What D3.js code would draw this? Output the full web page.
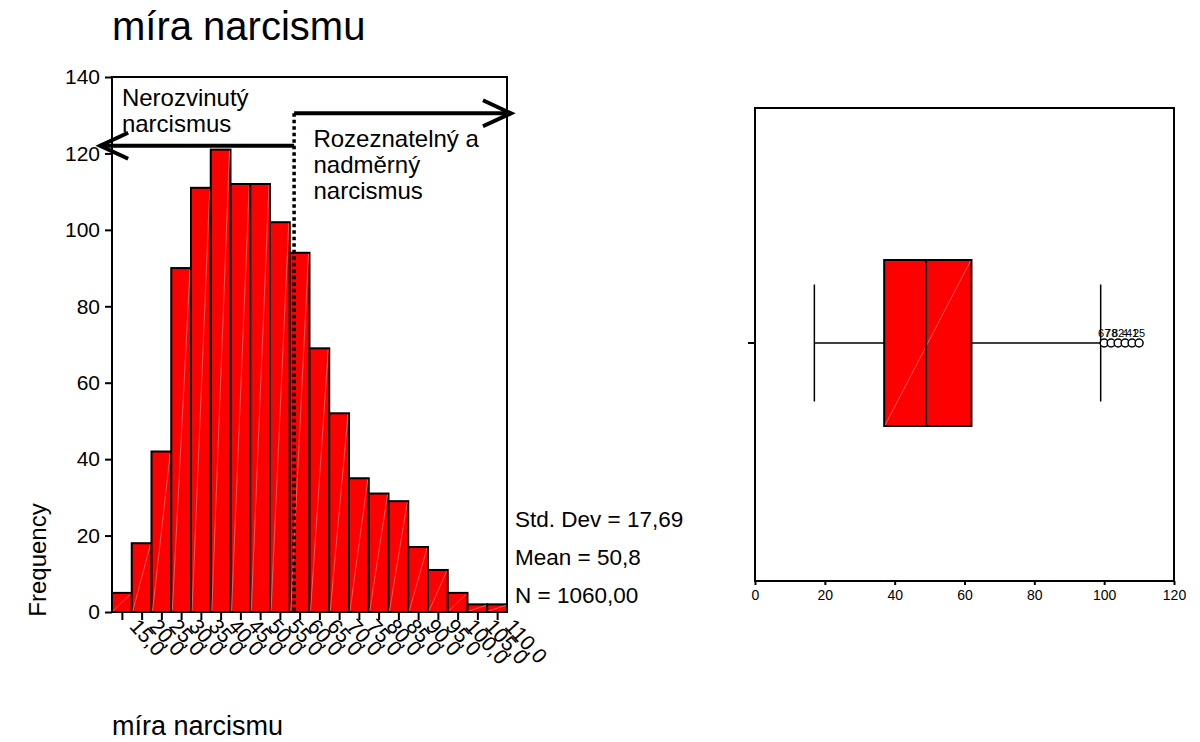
<!DOCTYPE html>
<html><head><meta charset="utf-8">
<script src="https://cdn.jsdelivr.net/npm/d3@7/dist/d3.min.js"></script>
<style>
body{margin:0;background:#fff;}
text{font-family:"Liberation Sans",Arial,sans-serif;fill:#000;}
</style></head>
<body><svg id="c" width="1200" height="742"></svg>
<script>
// ---- data ----
const binCenters = [15,20,25,30,35,40,45,50,55,60,65,70,75,80,85,90,95,100,105,110];
const counts     = [5,18,42,90,111,121,112,112,102,94,69,52,35,31,29,17,11,5,2,2];
const yTicks     = [0,20,40,60,80,100,120,140];
const statLines  = ["Std. Dev = 17,69","Mean = 50,8","N = 1060,00"];
const cutoff     = 58.6;
const leftLabel  = ["Nerozvinutý","narcismus"];
const rightLabel = ["Rozeznatelný a","nadměrný","narcismus"];
// boxplot: [lower whisker, Q1, median, Q3, upper whisker]
const boxValues  = [17,37,49,62,99];
const outliers   = [100,102,104,106,108,110];
const outlierLabels = ["67","78","82","4","41","25"];
const boxTicks   = [0,20,40,60,80,100,120];

const svg = d3.select("#c");
const font = "Liberation Sans, Arial, sans-serif";

// titles
svg.append("text").attr("x",112).attr("y",40).attr("font-size",40).text("míra narcismu");
svg.append("text").attr("x",112).attr("y",735).attr("font-size",27).text("míra narcismu");

// ---- histogram ----
const x = d3.scaleLinear().domain([12.5,112.5]).range([112,507]);
const y = d3.scaleLinear().domain([0,140]).range([612,77]);
const g = svg.append("g");

const bars = g.selectAll("g.bar").data(binCenters).join("g");
bars.append("rect")
  .attr("x",d=>x(d-2.5)).attr("width",d=>x(d+2.5)-x(d-2.5))
  .attr("y",(d,i)=>y(counts[i])).attr("height",(d,i)=>y(0)-y(counts[i]))
  .attr("fill","#ff0000").attr("stroke","#000").attr("stroke-width",2);
bars.append("line")
  .attr("x1",d=>x(d-2.5)+1).attr("y1",y(0)-1)
  .attr("x2",d=>x(d+2.5)-1).attr("y2",(d,i)=>y(counts[i])+1)
  .attr("stroke","#ff7070").attr("stroke-width",0.8);

// frame
g.append("rect").attr("x",x(12.5)).attr("y",y(140)).attr("width",x(112.5)-x(12.5)).attr("height",y(0)-y(140))
  .attr("fill","none").attr("stroke","#000").attr("stroke-width",2);

const ya = g.append("g").attr("transform",`translate(${x(12.5)},0)`)
  .call(d3.axisLeft(y).tickValues(yTicks).tickSize(7).tickPadding(5));
ya.select(".domain").remove();
ya.selectAll("line").attr("stroke-width",2);
ya.selectAll("text").attr("font-size",21).attr("font-family",font);

const xa = g.append("g").attr("transform",`translate(0,${y(0)})`)
  .call(d3.axisBottom(x).tickValues(binCenters).tickSize(8).tickFormat(d=>d.toFixed(1).replace(".",",")));
xa.select(".domain").remove();
xa.selectAll("line").attr("stroke-width",2);
xa.selectAll("text").attr("font-size",21).attr("font-family",font)
  .attr("text-anchor","start").attr("dy",0).attr("y",0)
  .attr("transform","translate(6,15) rotate(48)");

// cutoff dotted line
g.append("line").attr("x1",x(cutoff)).attr("x2",x(cutoff)).attr("y1",y(130.5)).attr("y2",y(0))
  .attr("stroke","#000").attr("stroke-width",3.5).attr("stroke-dasharray","3.5,3");

// arrows
function arrow(x1,x2,yv,dir){
  const yy=y(yv), xt=x(x2);
  g.append("line").attr("x1",x(x1)).attr("x2",xt).attr("y1",yy).attr("y2",yy)
    .attr("stroke","#000").attr("stroke-width",4);
  g.append("path").attr("d",`M${xt-dir*28},${yy-13}L${xt},${yy}L${xt-dir*28},${yy+13}`)
    .attr("fill","none").attr("stroke","#000").attr("stroke-width",4).attr("stroke-linejoin","miter");
}
arrow(cutoff,113.5,130.5,1);
arrow(cutoff,9.5,122,-1);

leftLabel.forEach((t,i)=>g.append("text").attr("x",x(15)).attr("y",y(132.5-i*6.9)).attr("font-size",24).text(t));
rightLabel.forEach((t,i)=>g.append("text").attr("x",x(63.5)).attr("y",y(121.8-i*6.9)).attr("font-size",24).text(t));

statLines.forEach((t,i)=>g.append("text").attr("x",515).attr("y",527+i*38).attr("font-size",22.5).text(t));

svg.append("text").attr("transform","translate(46,560) rotate(-90)").attr("text-anchor","middle")
  .attr("font-size",24).text("Frequency");

// ---- boxplot ----
const bx = d3.scaleLinear().domain([0,120]).range([755,1174]);
const cy = 343, bh = 83, ch = 58.5;
const b = svg.append("g");
b.append("rect").attr("x",bx(0)).attr("y",108).attr("width",bx(120)-bx(0)).attr("height",581-108)
  .attr("fill","none").attr("stroke","#000").attr("stroke-width",2);
const ba = b.append("g").attr("transform","translate(0,581)")
  .call(d3.axisBottom(bx).tickValues(boxTicks).tickSize(4).tickPadding(5));
ba.select(".domain").remove();
ba.selectAll("line").attr("stroke-width",2);
ba.selectAll("text").attr("font-size",14).attr("font-family",font);
b.append("line").attr("x1",bx(0)-7).attr("x2",bx(0)).attr("y1",cy).attr("y2",cy).attr("stroke","#000").attr("stroke-width",2);

const [wl,q1,md,q3,wh] = boxValues;
b.append("line").attr("x1",bx(wl)).attr("x2",bx(q1)).attr("y1",cy).attr("y2",cy).attr("stroke","#000").attr("stroke-width",1.5);
b.append("line").attr("x1",bx(q3)).attr("x2",bx(wh)).attr("y1",cy).attr("y2",cy).attr("stroke","#000").attr("stroke-width",1.5);
[wl,wh].forEach(v=>b.append("line").attr("x1",bx(v)).attr("x2",bx(v)).attr("y1",cy-ch).attr("y2",cy+ch).attr("stroke","#000").attr("stroke-width",1.5));
b.append("rect").attr("x",bx(q1)).attr("y",cy-bh).attr("width",bx(q3)-bx(q1)).attr("height",2*bh)
  .attr("fill","#ff0000").attr("stroke","#000").attr("stroke-width",2);
b.append("line").attr("x1",bx(q1)+1).attr("y1",cy+bh-1).attr("x2",bx(q3)-1).attr("y2",cy-bh+1).attr("stroke","#ff7070").attr("stroke-width",0.8);
b.append("line").attr("x1",bx(md)).attr("x2",bx(md)).attr("y1",cy-bh).attr("y2",cy+bh).attr("stroke","#000").attr("stroke-width",2);

b.selectAll("ellipse.o").data(outliers).join("ellipse")
  .attr("cx",d=>bx(d)).attr("cy",cy).attr("rx",4).attr("ry",4)
  .attr("fill","#fff").attr("stroke","#000").attr("stroke-width",1.5);
b.selectAll("text.o").data(outliers).join("text")
  .attr("x",d=>bx(d)).attr("y",cy-6).attr("text-anchor","middle").attr("font-size",11)
  .text((d,i)=>outlierLabels[i]);
</script></body></html>
